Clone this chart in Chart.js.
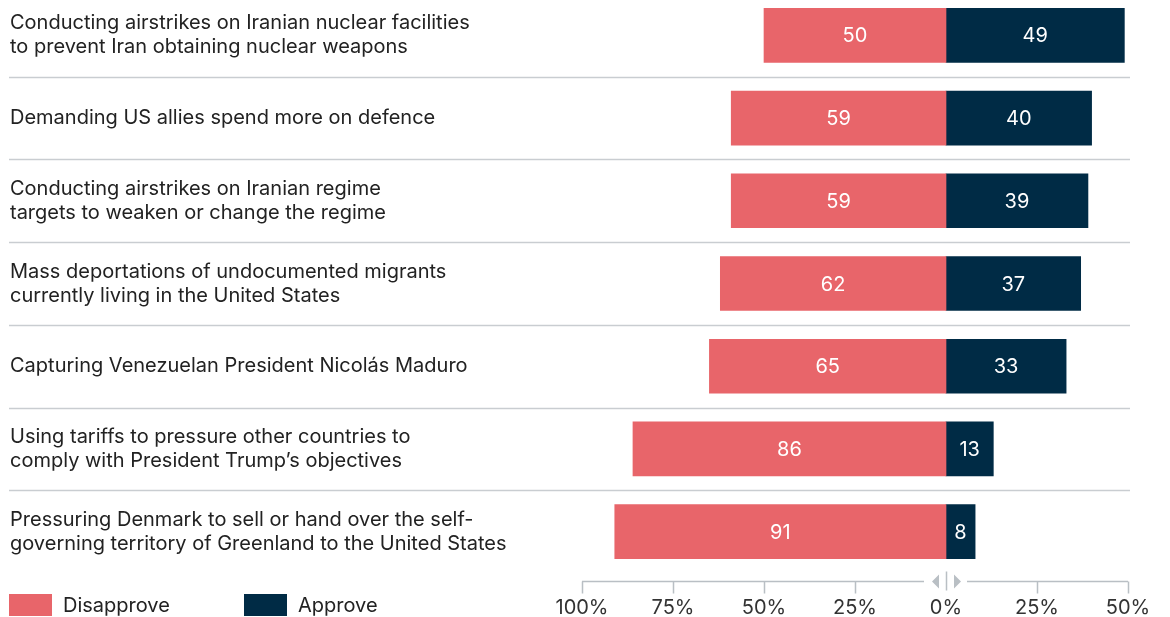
<!DOCTYPE html>
<html>
<head>
<meta charset="utf-8">
<script src="https://cdn.jsdelivr.net/npm/chart.js@4.4.0/dist/chart.umd.min.js"></script>
<style>
  html, body { margin: 0; padding: 0; background: #fff; }
  body { width: 1170px; height: 617px; position: relative; overflow: hidden; font-family: Inter, sans-serif; }
  #wrap { position: absolute; left: 0; top: -6px; width: 1170px; height: 623px; }
  .legend { position: absolute; top: 594px; height: 22px; display: flex; align-items: center; font-size: 20px; color: #222; }
  .legend .box { display: inline-block; width: 43px; height: 22px; margin-right: 11px; }
</style>
</head>
<body>
<div id="wrap"><canvas id="chart"></canvas></div>
<div class="legend" style="left:9px"><span class="box" style="background:#e8656a"></span>Disapprove</div>
<div class="legend" style="left:244px"><span class="box" style="background:#002b45"></span>Approve</div>
<script>
const questions = [
  ['Conducting airstrikes on Iranian nuclear facilities', 'to prevent Iran obtaining nuclear weapons'],
  'Demanding US allies spend more on defence',
  ['Conducting airstrikes on Iranian regime', 'targets to weaken or change the regime'],
  ['Mass deportations of undocumented migrants', 'currently living in the United States'],
  'Capturing Venezuelan President Nicolás Maduro',
  ['Using tariffs to pressure other countries to', 'comply with President Trump\u2019s objectives'],
  ['Pressuring Denmark to sell or hand over the self-', 'governing territory of Greenland to the United States']
];
const disapprove = [50, 59, 59, 62, 65, 86, 91];
const approve = [49, 40, 39, 37, 33, 13, 8];
const axisTicks = [-100, -75, -50, -25, 0, 25, 50];

const RED = '#e8656a';
const NAVY = '#002b45';
const AXIS = '#b9bfc4';

// thin rules between the rows
const rowRules = {
  id: 'rowRules',
  beforeDatasetsDraw(chart) {
    const { ctx, scales: { y } } = chart;
    ctx.save();
    ctx.strokeStyle = '#c9cdd1';
    ctx.lineWidth = 1.5;
    for (let i = 0; i < questions.length - 1; i++) {
      const yy = Math.round((y.getPixelForValue(i) + y.getPixelForValue(i + 1)) / 2) + 0.5;
      ctx.beginPath();
      ctx.moveTo(9, yy);
      ctx.lineTo(1130, yy);
      ctx.stroke();
    }
    ctx.restore();
  }
};

// numbers inside each bar segment
const barValues = {
  id: 'barValues',
  afterDatasetsDraw(chart) {
    const { ctx } = chart;
    ctx.save();
    ctx.fillStyle = '#fff';
    ctx.font = '20px Inter, sans-serif';
    ctx.textAlign = 'center';
    ctx.textBaseline = 'middle';
    chart.data.datasets.forEach((ds, di) => {
      chart.getDatasetMeta(di).data.forEach((bar, i) => {
        ctx.fillText(String(Math.abs(ds.data[i])), (bar.x + bar.base) / 2, bar.y + 1);
      });
    });
    ctx.restore();
  }
};

// bottom axis: line broken at zero with two small arrowheads
const bottomAxis = {
  id: 'bottomAxis',
  afterDraw(chart) {
    const { ctx, chartArea, scales: { x } } = chart;
    const ly = chartArea.bottom + 8.5;
    const zero = x.getPixelForValue(0);
    ctx.save();
    ctx.strokeStyle = AXIS;
    ctx.fillStyle = AXIS;
    ctx.lineWidth = 1.5;
    ctx.beginPath();
    ctx.moveTo(x.getPixelForValue(-100), ly);
    ctx.lineTo(zero - 22, ly);
    ctx.moveTo(zero + 21, ly);
    ctx.lineTo(x.getPixelForValue(50), ly);
    axisTicks.forEach(v => {
      if (v === 0) return;
      const px = Math.round(x.getPixelForValue(v)) + 0.5;
      ctx.moveTo(px, ly);
      ctx.lineTo(px, ly + 12);
    });
    ctx.moveTo(Math.round(zero) + 0.5, ly - 10);
    ctx.lineTo(Math.round(zero) + 0.5, ly + 9);
    ctx.stroke();
    ctx.beginPath();
    ctx.moveTo(zero - 14, ly);
    ctx.lineTo(zero - 7, ly - 7);
    ctx.lineTo(zero - 7, ly + 7);
    ctx.closePath();
    ctx.moveTo(zero + 15, ly);
    ctx.lineTo(zero + 8, ly - 7);
    ctx.lineTo(zero + 8, ly + 7);
    ctx.closePath();
    ctx.fill();
    ctx.restore();
  }
};

new Chart(document.getElementById('chart'), {
  type: 'bar',
  data: {
    labels: questions,
    datasets: [
      { label: 'Disapprove', data: disapprove.map(v => -v), backgroundColor: RED, barThickness: 54, borderWidth: 0 },
      { label: 'Approve', data: approve, backgroundColor: NAVY, barThickness: 54, borderWidth: 0 }
    ]
  },
  options: {
    indexAxis: 'y',
    responsive: true,
    maintainAspectRatio: false,
    animation: false,
    devicePixelRatio: 1,
    layout: { padding: { left: 10, right: 42, top: 0, bottom: 0 } },
    plugins: {
      legend: { display: false },
      tooltip: { enabled: false }
    },
    scales: {
      x: {
        stacked: true,
        min: -100,
        max: 50,
        afterBuildTicks: scale => { scale.ticks = axisTicks.map(v => ({ value: v })); },
        afterFit: scale => {
          scale.height = 44;
          scale.paddingLeft = 0;
          scale.paddingRight = 0;
        },
        grid: { display: false, drawTicks: false },
        border: { display: false },
        ticks: {
          autoSkip: false,
          maxRotation: 0,
          padding: 23,
          color: '#333',
          font: { family: 'Inter', size: 20 },
          callback: v => Math.abs(v) + '%'
        }
      },
      y: {
        stacked: true,
        afterFit: scale => {
          scale.width = 572;
          scale.paddingTop = 0;
          scale.paddingBottom = 0;
        },
        grid: { display: false },
        border: { display: false },
        ticks: {
          crossAlign: 'far',
          padding: 0,
          color: '#222',
          font: { family: 'Inter', size: 20, lineHeight: 1.2 }
        }
      }
    }
  },
  plugins: [rowRules, barValues, bottomAxis]
});
</script>
</body>
</html>
